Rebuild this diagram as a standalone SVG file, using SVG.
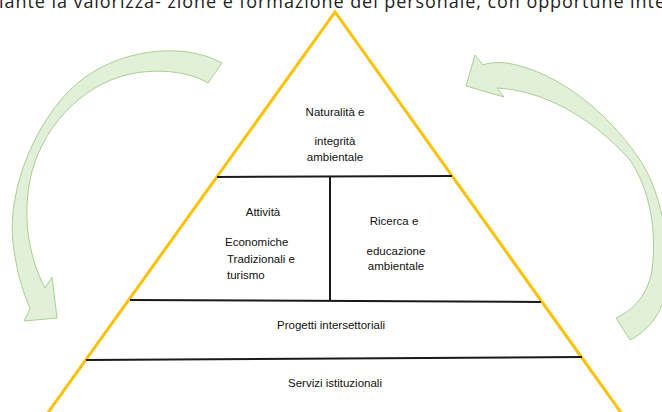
<svg xmlns="http://www.w3.org/2000/svg" width="662" height="412" viewBox="0 0 662 412">
<style>
.bg{fill:#ffffff}
.arrow{fill:#e2efd9;stroke:#a9d08e;stroke-width:1;stroke-linejoin:round}
.pyr{fill:none;stroke:#ffc000;stroke-width:3;stroke-linejoin:miter}
.sep{stroke:#1a1a1a;stroke-width:2;fill:none}
.lbl{font-family:"Liberation Sans",Arial,sans-serif;font-size:11.5px;fill:#111}
.mid{text-anchor:middle}
.top{font-family:"Open Sans","Liberation Sans",sans-serif;font-size:18px;fill:#222}
</style>
<rect class="bg" x="0" y="0" width="662" height="412"/>
<text class="top" x="-1" y="8" textLength="666" lengthAdjust="spacing">iante la valorizza- zione e formazione del personale, con opportune inte</text>
<g id="arrows">
<path id="arrow-left" class="arrow" d="M222,63 C180,40 110,50 70,90 C30,130 5,200 14,250 C18,280 25,295 30,309 L24,321 L57,318 L52,277 L45,288 C30,260 22,220 30,180 C40,130 80,85 130,74 C160,68 190,72 208,83 Z"/>
<path id="arrow-right" class="arrow" d="M483,65 L475,55 L466,86 L504,97 L497,88 C540,90 590,115 630,160 C650,190 657,230 652,270 C648,295 633,310 616,318 L630,340 C650,330 665,310 668,280 C670,240 660,190 640,160 C610,115 560,72 507,63 C495,62 488,63 483,65 Z"/>
</g>
<g id="pyramid">
<polyline class="pyr" points="47,414 335,12 622,414"/>
</g>
<g id="connectors">
<line class="sep" x1="217" y1="177" x2="452" y2="176"/>
<line class="sep" x1="330" y1="177" x2="330" y2="300"/>
<line class="sep" x1="130" y1="300" x2="541" y2="302"/>
<line class="sep" x1="86" y1="360" x2="582" y2="357"/>
</g>
<g id="node-naturalita">
<text class="lbl mid" x="335" y="116">Naturalità e</text>
<text class="lbl mid" x="335" y="145">integrità</text>
<text class="lbl mid" x="335" y="161">ambientale</text>
</g>
<g id="node-attivita">
<text class="lbl mid" x="263" y="216">Attività</text>
<text class="lbl" x="225" y="246">Economiche</text>
<text class="lbl" x="227" y="263">Tradizionali  e</text>
<text class="lbl" x="227" y="279">turismo</text>
</g>
<g id="node-ricerca">
<text class="lbl mid" x="394" y="225">Ricerca e</text>
<text class="lbl mid" x="396" y="255">educazione</text>
<text class="lbl mid" x="396" y="270">ambientale</text>
</g>
<g id="node-progetti">
<text class="lbl mid" x="331" y="329">Progetti intersettoriali</text>
</g>
<g id="node-servizi">
<text class="lbl mid" x="335" y="387">Servizi istituzionali</text>
</g>
</svg>
